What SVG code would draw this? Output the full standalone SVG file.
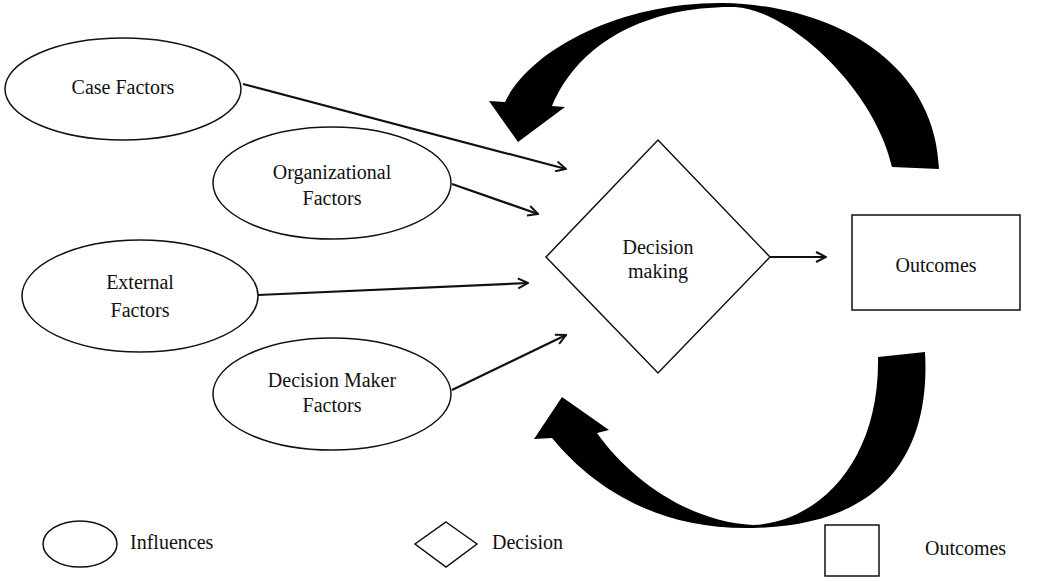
<svg xmlns="http://www.w3.org/2000/svg" width="1050" height="582" viewBox="0 0 1050 582">
<defs>
<style>
.sh{fill:#fff;stroke:#111;stroke-width:1.5}
.t{font-family:"Liberation Serif","Times New Roman",serif;font-size:20px;fill:#111;text-anchor:middle}
.lt{font-family:"Liberation Serif","Times New Roman",serif;font-size:20px;fill:#111}
.c{stroke:#111;stroke-width:2.2;fill:none}
.big{fill:#000;stroke:none}
</style>
<marker id="ah" viewBox="0 0 12 12" refX="11" refY="6" markerWidth="12" markerHeight="12" markerUnits="userSpaceOnUse" orient="auto">
<path d="M1,1 L11,6 L1,11" fill="none" stroke="#111" stroke-width="2"/>
</marker>
</defs>
<rect width="1050" height="582" fill="#fff"/>
<g id="feedback">
<path class="big" d="M939,169 C935,60 830,5 723,3 C620,2 530,50 505,102 L489,101 L518,142 L565,107 L552,106 C580,40 650,6 735,7 C790,10 875,90 892,167 Z"/>
<path class="big" d="M878,357 L925,352 C930,440 895,525 753,528 C660,530 595,490 552,438 L534,439 L562,397 L609,430 L597,433 C630,480 690,522 753,525 C820,522 880,460 878,357 Z"/>
</g>
<g id="connectors">
<line class="c" x1="243" y1="84" x2="566" y2="169" marker-end="url(#ah)"/>
<line class="c" x1="452" y1="184" x2="538" y2="214" marker-end="url(#ah)"/>
<line class="c" x1="258" y1="295" x2="528" y2="283" marker-end="url(#ah)"/>
<line class="c" x1="452" y1="390" x2="566" y2="335" marker-end="url(#ah)"/>
<line class="c" x1="769" y1="257" x2="826" y2="257" marker-end="url(#ah)"/>
</g>
<g id="case-factors">
<ellipse class="sh" cx="123" cy="89" rx="118" ry="51"/>
<text class="t" x="123" y="94">Case Factors</text>
</g>
<g id="organizational-factors">
<ellipse class="sh" cx="332" cy="183" rx="119" ry="56"/>
<text class="t" x="332" y="179">Organizational</text>
<text class="t" x="332" y="205">Factors</text>
</g>
<g id="external-factors">
<ellipse class="sh" cx="140" cy="296" rx="118" ry="56"/>
<text class="t" x="140" y="289">External</text>
<text class="t" x="140" y="317">Factors</text>
</g>
<g id="decision-maker-factors">
<ellipse class="sh" cx="332" cy="394" rx="119" ry="56"/>
<text class="t" x="332" y="387">Decision Maker</text>
<text class="t" x="332" y="412">Factors</text>
</g>
<g id="decision-making">
<polygon class="sh" points="658,140 770,257 658,373 546,257"/>
<text class="t" x="658" y="254">Decision</text>
<text class="t" x="658" y="278">making</text>
</g>
<g id="outcomes">
<rect class="sh" x="852" y="215" width="168" height="95"/>
<text class="t" x="936" y="272">Outcomes</text>
</g>
<g id="legend">
<ellipse class="sh" cx="80" cy="544" rx="37" ry="23"/>
<text class="lt" x="130" y="549">Influences</text>
<polygon class="sh" points="446,522 477,544 446,567 415,544"/>
<text class="lt" x="492" y="549">Decision</text>
<rect class="sh" x="825" y="525" width="54" height="51"/>
<text class="lt" x="925" y="555">Outcomes</text>
</g>
</svg>
